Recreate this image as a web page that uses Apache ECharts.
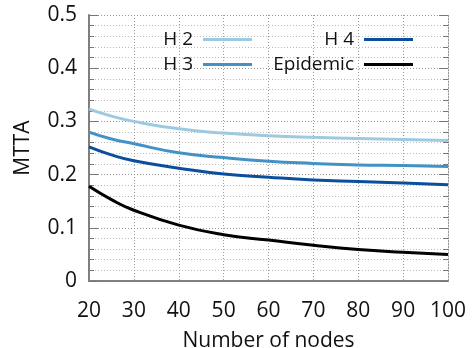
<!DOCTYPE html>
<html><head><meta charset="utf-8">
<script src="https://cdn.jsdelivr.net/npm/echarts@6/dist/echarts.min.js"></script>
<style>html,body{margin:0;padding:0;background:#fff}#c{width:475px;height:348px}</style>
</head><body><div id="c"></div>
<script>
const nodes = [20, 25, 30, 40, 50, 60, 70, 80, 90, 100];
const h2 = [0.323, 0.310, 0.300, 0.286, 0.278, 0.273, 0.270, 0.268, 0.266, 0.264];
const h3 = [0.280, 0.267, 0.258, 0.241, 0.232, 0.225, 0.221, 0.218, 0.217, 0.215];
const h4 = [0.252, 0.237, 0.226, 0.212, 0.201, 0.195, 0.190, 0.187, 0.184, 0.181];
const epidemic = [0.178, 0.153, 0.133, 0.105, 0.087, 0.077, 0.067, 0.059, 0.054, 0.050];
const names = ['H 2', 'H 3', 'H 4', 'Epidemic'];
const colors = ['#9ecae1', '#4292c6', '#0b4f9c', '#000000'];
const seriesData = [h2, h3, h4, epidemic];
const yTicks = [0, 0.1, 0.2, 0.3, 0.4, 0.5];
const xTicks = [20, 30, 40, 50, 60, 70, 80, 90, 100];

const font = 'Open Sans';
const chart = echarts.init(document.getElementById('c'));
const legendPos = [
  {right: 218, top: 25}, {right: 218, top: 50},
  {right: 57, top: 25}, {right: 57, top: 50}
];
const yBase = {
  type: 'value', min: yTicks[0], max: yTicks[yTicks.length - 1], interval: 0.1,
  minorTick: {show: true, splitNumber: 5, length: 5, lineStyle: {color: '#777', width: 1}},
  axisTick: {show: true, inside: true, length: 9, lineStyle: {color: '#777', width: 1}},
};
chart.setOption({
  animation: false,
  grid: {left: 89, right: 27, top: 15, bottom: 67, containLabel: false, outerBoundsMode: 'none'},
  legend: names.map((n, i) => ({
    data: [n], right: legendPos[i].right, top: legendPos[i].top,
    icon: 'rect', itemWidth: 49, itemHeight: 3, align: 'right',
    textStyle: {fontFamily: font, fontSize: 19, color: '#111', padding: [0, 5, 0, 0]}
  })),
  xAxis: {
    type: 'value', min: 20, max: 100, interval: 10,
    name: 'Number of nodes', nameLocation: 'middle', nameGap: 50,
    nameTextStyle: {fontFamily: font, fontSize: 21, color: '#111'},
    axisLine: {show: true, onZero: false, lineStyle: {color: '#808080', width: 2}},
    axisTick: {show: false},
    axisLabel: {fontFamily: font, fontSize: 21, color: '#111', margin: 20,
      formatter: v => xTicks.includes(v) ? String(v) : ''},
    splitLine: {show: true, lineStyle: {type: [1, 2], color: '#999', width: 1}}
  },
  yAxis: [
    Object.assign({}, yBase, {
      position: 'left',
      name: 'MTTA', nameLocation: 'middle', nameGap: 55,
      nameTextStyle: {fontFamily: font, fontSize: 21, color: '#111'},
      axisLine: {show: true, lineStyle: {color: '#808080', width: 2}},
      axisLabel: {fontFamily: font, fontSize: 21, color: '#111', margin: 12,
        formatter: v => String(+v.toFixed(1))},
      splitLine: {show: true, lineStyle: {type: [1, 2], color: '#999', width: 1}},
      minorSplitLine: {show: true, lineStyle: {type: [1, 2], color: '#bbb', width: 1}}
    }),
    Object.assign({}, yBase, {
      position: 'right',
      axisLine: {show: true, lineStyle: {color: '#999', width: 1, type: [1, 2]}},
      axisLabel: {show: false},
      splitLine: {show: false}
    })
  ],
  series: seriesData.map((d, i) => ({
    name: names[i], type: 'line', smooth: 0.5, showSymbol: false, symbol: 'none',
    yAxisIndex: 0,
    data: nodes.map((x, j) => [x, d[j]]),
    lineStyle: {color: colors[i], width: 3},
    itemStyle: {color: colors[i]}
  }))
});
</script></body></html>
